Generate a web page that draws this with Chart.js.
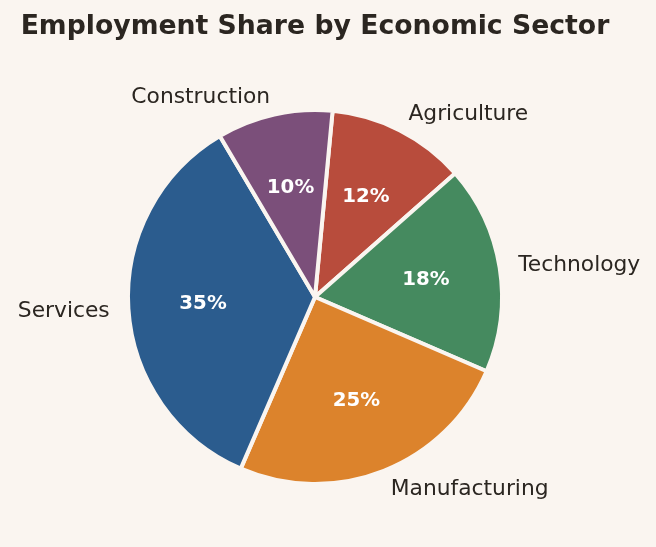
<!DOCTYPE html>
<html>
<head>
<meta charset="utf-8">
<script src="https://cdn.jsdelivr.net/npm/chart.js@4/dist/chart.umd.min.js"></script>
<style>
    html, body { margin: 0; padding: 0; background: #faf5f0; }
    #wrap { width: 656px; height: 547px; position: relative; }
</style>
</head>
<body>
<div id="wrap"><canvas id="pie"></canvas></div>
<script>
    // slices, clockwise from the top
    const sectors = ['Agriculture', 'Technology', 'Manufacturing', 'Services', 'Construction'];
    const shares = [12, 18, 25, 35, 10];
    const sliceColors = ['#b84c3c', '#458a5f', '#dc832c', '#2b5c8e', '#7b4f7a'];
    const chartTitle = 'Employment Share by Economic Sector';

    const bg = '#faf5f0';
    const ink = '#2b2621';

    // title, outside labels and percentages
    const pieLabels = {
        id: 'pieLabels',
        beforeDraw(chart) {
            const ctx = chart.ctx;
            ctx.save();
            ctx.fillStyle = bg;
            ctx.fillRect(0, 0, chart.width, chart.height);
            ctx.restore();
        },
        afterDatasetsDraw(chart) {
            const ctx = chart.ctx;
            const meta = chart.getDatasetMeta(0);
            const total = shares.reduce((a, b) => a + b, 0);
            ctx.save();
            meta.data.forEach((arc, i) => {
                const p = arc.getProps(['x', 'y', 'startAngle', 'endAngle', 'outerRadius'], true);
                const mid = (p.startAngle + p.endAngle) / 2;
                const r = p.outerRadius;

                // category name
                const lx = p.x + Math.cos(mid) * r * 1.1;
                const ly = p.y + Math.sin(mid) * r * 1.1;
                ctx.font = '21.8px "DejaVu Sans"';
                ctx.fillStyle = ink;
                ctx.textAlign = Math.cos(mid) > 0 ? 'left' : 'right';
                ctx.textBaseline = 'middle';
                ctx.fillText(sectors[i], lx, ly + 1);

                // percent inside
                const px = p.x + Math.cos(mid) * r * 0.6;
                const py = p.y + Math.sin(mid) * r * 0.6;
                ctx.font = 'bold 19.8px "DejaVu Sans"';
                ctx.fillStyle = '#ffffff';
                ctx.textAlign = 'center';
                ctx.fillText(Math.round(shares[i] / total * 100) + '%', px, py);
            });

            const cx = meta.data[0].x;
            ctx.font = 'bold 26.7px "DejaVu Sans"';
            ctx.fillStyle = ink;
            ctx.textAlign = 'center';
            ctx.textBaseline = 'middle';
            ctx.fillText(chartTitle, cx, 27);
            ctx.restore();
        }
    };

    new Chart(document.getElementById('pie'), {
        type: 'pie',
        data: {
            labels: sectors,
            datasets: [{
                data: shares,
                backgroundColor: sliceColors,
                borderColor: bg,
                borderWidth: 4
            }]
        },
        options: {
            responsive: true,
            maintainAspectRatio: false,
            animation: false,
            rotation: 5.4,
            layout: {
                padding: { left: 126, right: 152, top: 108, bottom: 61 }
            },
            plugins: {
                legend: { display: false },
                tooltip: { enabled: false },
                title: { display: false }
            }
        },
        plugins: [pieLabels]
    });
</script>
</body>
</html>
